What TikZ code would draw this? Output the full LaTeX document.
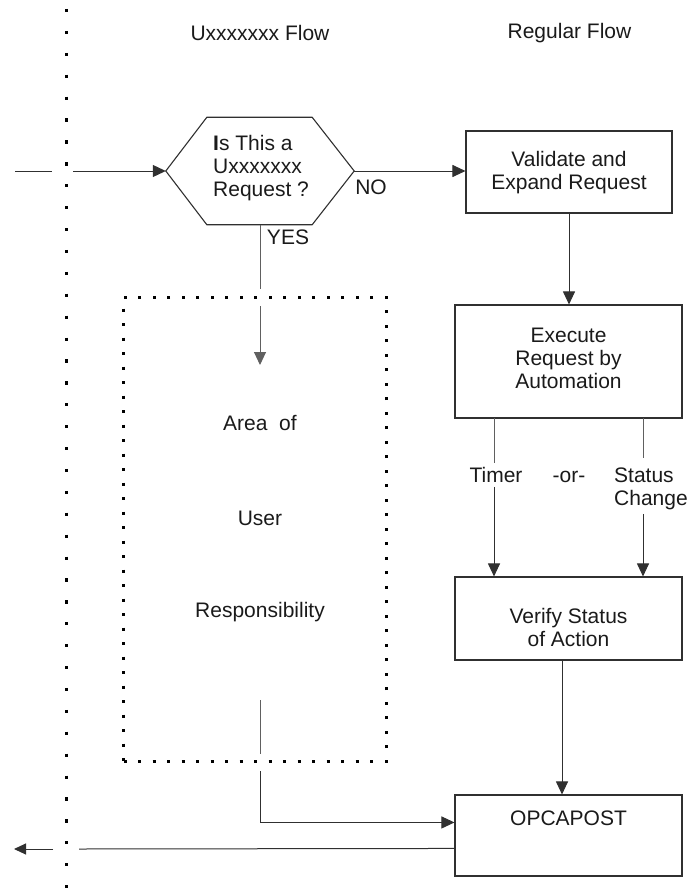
\documentclass[tikz,border=0pt]{standalone}
\usepackage{fontspec}
\setmainfont{Liberation Sans}
\usetikzlibrary{arrows.meta,calc}
\definecolor{linec}{HTML}{303030}
\definecolor{lineg}{HTML}{606060}
\definecolor{txtc}{HTML}{1A1A1A}
\begin{document}
\begin{tikzpicture}[x=1pt,y=-1pt,
  txt/.style={font=\fontsize{21}{23}\selectfont, text=txtc, inner sep=0pt, align=center},
  lbl/.style={font=\fontsize{21}{23}\selectfont, text=txtc, inner sep=4pt, align=left},
  boxnode/.style={draw=linec, line width=1.1pt, inner sep=0pt},
  conn/.style={draw=linec, line width=1pt},
  conng/.style={draw=lineg, line width=1pt},
  arr/.style={-{Triangle[length=13pt,width=12pt]}},
  dotline/.style={draw=black, line width=3.2pt, dash pattern=on 3.2pt off 18.7pt},
  dotbox/.style={draw=black, line width=3pt, dash pattern=on 3pt off 11.5pt}]
\useasboundingbox (0,0) rectangle (688,888);

% separator line
\coordinate (sepT) at (66.7,9);
\coordinate (sepB) at (66.7,888);
\draw[dotline] (sepT) -- (sepB);

% titles
\node[txt] (t1) at (260,33) {Uxxxxxxx Flow};
\node[txt] (t2) at (569.5,33) {Regular Flow};

% hexagon
\node[minimum width=188pt, minimum height=107pt, inner sep=0pt] (hex) at (260,171) {};
\draw[boxnode] (hex.west) -- ($(hex.north west)+(41,0)$) -- ($(hex.north east)+(-42,0)$) -- (hex.east)
  -- ($(hex.south east)+(-42,0)$) -- ($(hex.south west)+(41,0)$) -- cycle;
\node[txt, align=left, anchor=west] (hext) at (213,168) {\textbf{I}s This a\\Uxxxxxxx\\Request ?};

% boxes
\node[boxnode, minimum width=206pt, minimum height=82pt] (box1) at (569,172) {};
\node[txt] (box1t) at (569,172.5) {Validate and\\Expand Request};
\node[boxnode, minimum width=227pt, minimum height=113pt] (box2) at (568.5,361.5) {};
\node[txt] (box2t) at (568.5,358) {Execute\\Request by\\Automation};
\node[boxnode, minimum width=227pt, minimum height=83pt] (box3) at (568.5,618.5) {};
\node[txt] (box3t) at (568.5,627) {Verify Status\\of Action};
\node[boxnode, minimum width=227pt, minimum height=81pt] (box4) at (568.5,835.5) {};
\node[txt] (box4t) at (568.5,818) {OPCAPOST};

% user area
\node[dotbox, minimum width=262.5pt, minimum height=464pt] (area) at (254.75,529) {};
\node[txt] (a1) at (260,423) {Area\ \ of};
\node[txt] (a2) at (260,518) {User};
\node[txt] (a3) at (260,612) {Responsibility};

% input arrow
\coordinate (inA) at (15,171);
\coordinate (inB) at (52,171);
\coordinate (inC) at (73,171);
\draw[conn] (inA) -- (inB);
\draw[conn, arr] (inC) -- (hex.west);

% NO branch
\draw[conn, arr] (hex.east) -- (hex.east -| box1.west);
\node[txt] (no) at (371,187) {NO};

% YES branch
\coordinate (ys1) at (260,289);
\coordinate (ys2) at (260,306);
\coordinate (ys3) at (260,365);
\draw[conng] (hex.south) -- (ys1);
\draw[conng, arr] (ys2) -- (ys3);
\node[txt] (yes) at (288,237) {YES};

% box1 -> box2
\draw[conn, arr] (box1.south) -- (box1.south |- box2.north);

% timer / status change
\node[lbl, align=center] (timer) at (496,475) {Timer};
\node[txt] (or) at (569,477) {-or-};
\node[lbl, anchor=west, inner xsep=0pt] (status) at (614,488.6) {Status\\Change};
\coordinate (lx) at (494,418);
\coordinate (rx) at (643,418);
\draw[conng] (lx) -- (lx |- timer.north);
\draw[conn, arr] (lx |- timer.south) -- (lx |- box3.north);
\draw[conng] (rx) -- ($(rx |- status.north)+(0,-5)$);
\draw[conn, arr] (rx |- status.south) -- (rx |- box3.north);

% box3 -> box4
\coordinate (mx) at (562,660);
\draw[conn, arr] (mx) -- (mx |- box4.north);

% user area -> box4
\coordinate (u1) at (260,700);
\coordinate (u2) at (260,754);
\coordinate (u3) at (260,771);
\draw[conng] (u1) -- (u2);
\draw[conn, arr] (u3) |- ($(box4.north west)+(0,28)$);

% exit
\coordinate (ex1) at (79,849);
\coordinate (ex2) at (53,849);
\coordinate (ex3) at (14,849);
\draw[conn] ($(box4.north west)+(0,54)$) -- (ex1);
\draw[conn, -{Triangle[length=12pt,width=11pt]}] (ex2) -- (ex3);
\end{tikzpicture}
\end{document}
